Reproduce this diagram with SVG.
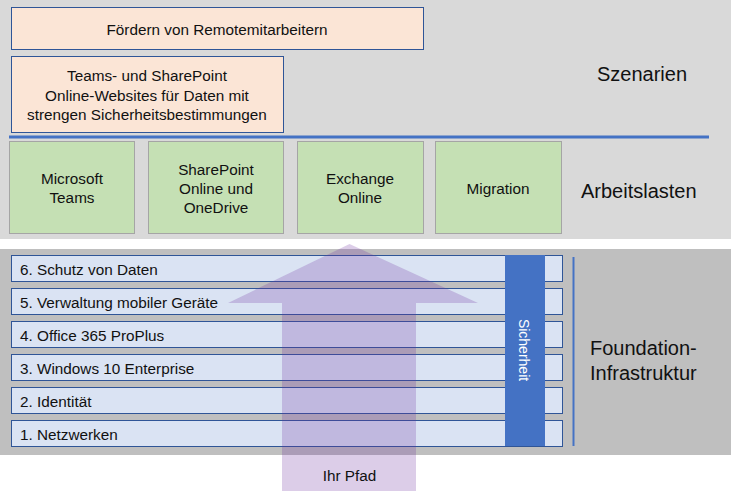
<svg xmlns="http://www.w3.org/2000/svg" width="731" height="494" viewBox="0 0 731 494">
<style>
text{font-family:"Liberation Sans",Arial,sans-serif;fill:#111}
.t{font-size:15.3px;text-anchor:middle;dominant-baseline:central}
.l{font-size:15.3px;dominant-baseline:central}
.s{font-size:14px;text-anchor:middle;dominant-baseline:central}
.big{font-size:20px;dominant-baseline:central}
.scen{fill:#fbe5d6;stroke:#2f5597;stroke-width:1}
.work{fill:#c5e0b4;stroke:#a5a5a5;stroke-width:1}
.bar{fill:#dae3f3;stroke:#2f5597;stroke-width:1}
</style>
<rect x="0" y="0" width="731" height="239" fill="#d9d9d9"/>
<rect x="0" y="249" width="731" height="206" fill="#bfbfbf"/>
<g id="scenario-remote"><rect class="scen" x="11.5" y="7.5" width="412" height="42"/><text class="t" x="217" y="29">Fördern von Remotemitarbeitern</text></g>
<g id="scenario-teams"><rect class="scen" x="11.5" y="56.5" width="272" height="76"/><text class="t" x="147" y="75">Teams- und SharePoint</text><text class="t" x="147" y="95">Online-Websites für Daten mit</text><text class="t" x="147" y="114">strengen Sicherheitsbestimmungen</text></g>
<text class="big" x="597" y="74">Szenarien</text>
<line x1="9" y1="137" x2="709" y2="137" stroke="#4472c4" stroke-width="3"/>
<g id="wl-teams"><rect class="work" x="9.5" y="141.5" width="125" height="92"/><text class="t" x="72" y="178">Microsoft</text><text class="t" x="72" y="197">Teams</text></g>
<g id="wl-sharepoint"><rect class="work" x="148.5" y="141.5" width="135" height="92"/><text class="t" x="216" y="169">SharePoint</text><text class="t" x="216" y="188">Online und</text><text class="t" x="216" y="207">OneDrive</text></g>
<g id="wl-exchange"><rect class="work" x="297.5" y="141.5" width="126" height="92"/><text class="t" x="360" y="178">Exchange</text><text class="t" x="360" y="197">Online</text></g>
<g id="wl-migration"><rect class="work" x="435.5" y="141.5" width="126" height="92"/><text class="t" x="498" y="188">Migration</text></g>
<text class="big" x="581" y="191">Arbeitslasten</text>
<g id="layer6"><rect class="bar" x="11.5" y="255.5" width="551" height="26"/><text class="l" x="20" y="269">6. Schutz von Daten</text></g>
<g id="layer5"><rect class="bar" x="11.5" y="288.5" width="551" height="26"/><text class="l" x="20" y="302">5. Verwaltung mobiler Geräte</text></g>
<g id="layer4"><rect class="bar" x="11.5" y="321.5" width="551" height="26"/><text class="l" x="20" y="335">4. Office 365 ProPlus</text></g>
<g id="layer3"><rect class="bar" x="11.5" y="354.5" width="551" height="26"/><text class="l" x="20" y="368">3. Windows 10 Enterprise</text></g>
<g id="layer2"><rect class="bar" x="11.5" y="387.5" width="551" height="26"/><text class="l" x="20" y="401">2. Identität</text></g>
<g id="layer1"><rect class="bar" x="11.5" y="420.5" width="551" height="26"/><text class="l" x="20" y="434">1. Netzwerken</text></g>
<g id="security"><rect x="505" y="255" width="40" height="191" fill="#4472c4"/><text class="s" x="0" y="0" transform="translate(524 350) rotate(90)" style="fill:#fff">Sicherheit</text></g>
<line x1="573.5" y1="257" x2="573.5" y2="446" stroke="#4472c4" stroke-width="2"/>
<text class="big" x="590" y="348">Foundation-</text>
<text class="big" x="590" y="373">Infrastruktur</text>
<g id="path-arrow"><polygon points="349.5,244 478,303 416,303 416,491 282,491 282,303 228,303" fill="#7030a0" fill-opacity="0.245"/><text class="t" x="349.5" y="475">Ihr Pfad</text></g>
</svg>
